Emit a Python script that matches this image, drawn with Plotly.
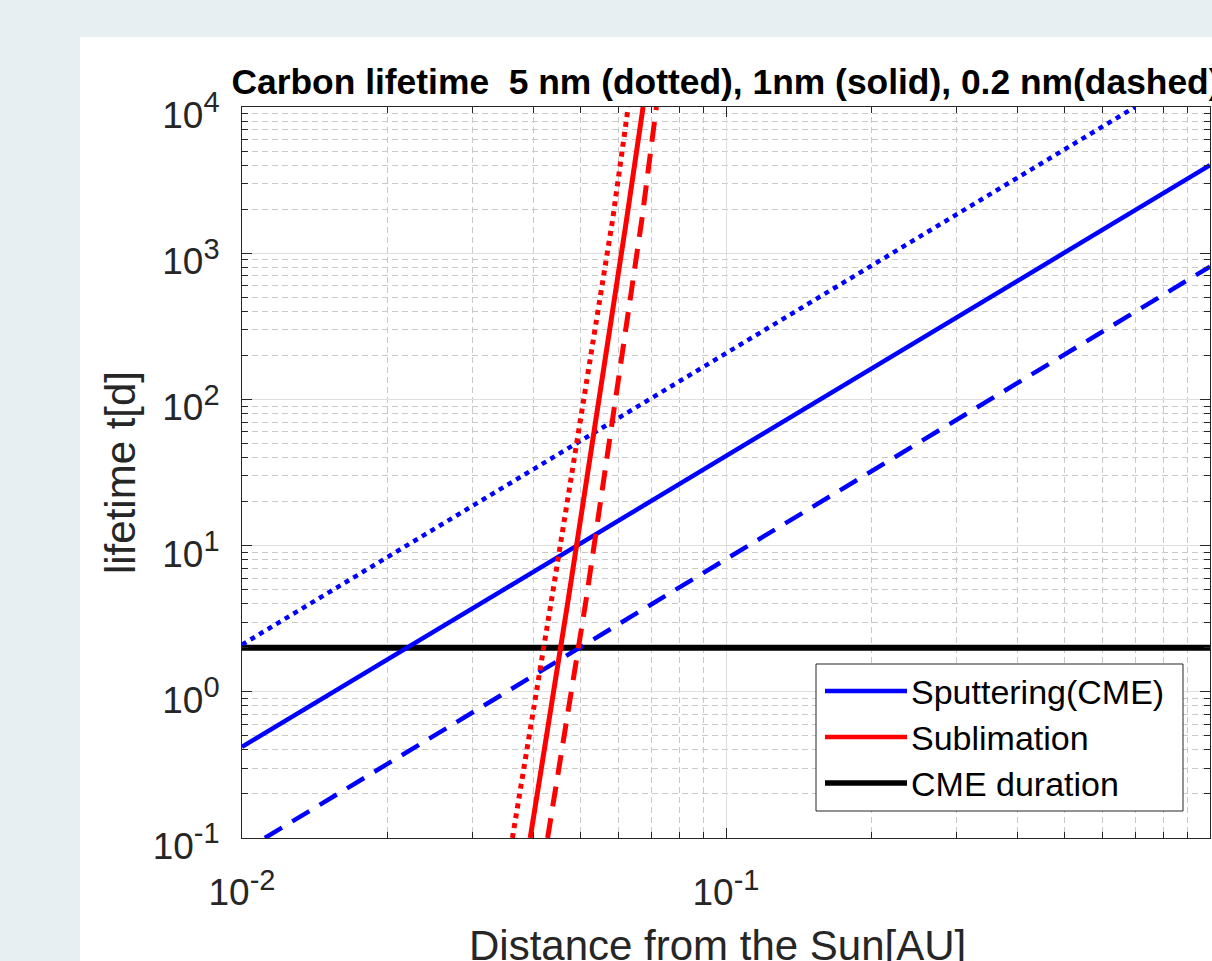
import plotly.graph_objects as go

# ---- data ----
# Sputtering (CME) lifetime lines [AU, days]
sput_r_dotted = [0.01, 0.70]
sput_t_dotted = [2.1, 10000]
sput_r_solid = [0.01, 1.0]
sput_t_solid = [0.42, 4000]
sput_r_dashed = [0.01115, 1.0]
sput_t_dashed = [0.1, 810]

# Sublimation lifetime lines [AU, days]
sub_t = [0.1, 4.25, 1690, 10000]
sub_r_dotted = [0.0362, 0.0436, 0.0583, 0.0628]
sub_r_solid = [0.0394, 0.0472, 0.0623, 0.0674]
sub_r_dashed = [0.0428, 0.0514, 0.0670, 0.0718]

# CME duration [days]
cme_r = [0.01, 1.0]
cme_t = [2, 2]

legend_labels = ["Sputtering(CME)", "Sublimation", "CME duration"]
legend_colors = ["#0000ff", "#ff0000", "#000000"]

x_tickvals = [0.01, 0.1, 1]
x_exps = ["-2", "-1", "0"]
y_tickvals = [0.1, 1, 10, 100, 1000, 10000]
y_exps = ["-1", "0", "1", "2", "3", "4"]

x_minor = [m * d for d in [0.01, 0.1] for m in range(2, 10)]
y_minor = [m * d for d in [0.1, 1, 10, 100, 1000] for m in range(2, 10)]

x_title = "Distance from the Sun[AU]"
y_title = "lifetime t[d]"
main_title = "Carbon lifetime  5 nm (dotted), 1nm (solid), 0.2 nm(dashed)"

FONT = "Liberation Sans, Arial, Helvetica, sans-serif"
AX = "#262626"
DOT = "5px,5px"
DASH = "20px,12px"


def pow_label(e):
    return "10<sup><span style='font-size:29px'>" + e + "</span></sup>"


fig = go.Figure()

fig.add_trace(go.Scatter(x=cme_r, y=cme_t, mode="lines",
                         line=dict(color="#000000", width=6), showlegend=False))
fig.add_trace(go.Scatter(x=sput_r_dotted, y=sput_t_dotted, mode="lines",
                         line=dict(color="#0000ff", width=4.5, dash=DOT), showlegend=False))
fig.add_trace(go.Scatter(x=sput_r_solid, y=sput_t_solid, mode="lines",
                         line=dict(color="#0000ff", width=4.5), showlegend=False))
fig.add_trace(go.Scatter(x=sput_r_dashed, y=sput_t_dashed, mode="lines",
                         line=dict(color="#0000ff", width=4.5, dash=DASH), showlegend=False))
fig.add_trace(go.Scatter(x=sub_r_dotted, y=sub_t, mode="lines",
                         line=dict(color="#ff0000", width=5, dash=DOT), showlegend=False))
fig.add_trace(go.Scatter(x=sub_r_solid, y=sub_t, mode="lines",
                         line=dict(color="#ff0000", width=5), showlegend=False))
fig.add_trace(go.Scatter(x=sub_r_dashed, y=sub_t, mode="lines",
                         line=dict(color="#ff0000", width=5, dash=DASH), showlegend=False))

W, H = 1212, 961
L, R, T, B = 242, 2, 107, 123
pw, ph = W - L - R, H - T - B


def px(xp):
    return (xp - L) / pw


def py(yp):
    return (H - B - yp) / ph


shapes = [
    # white figure panel
    dict(type="rect", xref="paper", yref="paper", x0=px(80), x1=px(1300),
         y0=py(1100), y1=py(37), fillcolor="white", line=dict(width=0), layer="below"),
    # legend box
    dict(type="rect", xref="paper", yref="paper", x0=px(816), x1=px(1183),
         y0=py(811), y1=py(664), fillcolor="white", line=dict(color=AX, width=1), layer="above"),
]
annotations = [
    # x-axis title (placed so that it is cut by the page edge as in the reference)
    dict(text=x_title, xref="paper", yref="paper", x=px(717), y=py(945),
         xanchor="center", yanchor="middle", showarrow=False,
         font=dict(family=FONT, size=42, color=AX)),
]
rows = [691, 737, 783]
lw = [4.5, 4.5, 5.5]
for lab, col, yy, w in zip(legend_labels, legend_colors, rows, lw):
    shapes.append(dict(type="line", xref="paper", yref="paper", x0=px(825), x1=px(907),
                       y0=py(yy), y1=py(yy), line=dict(color=col, width=w), layer="above"))
    annotations.append(dict(text=lab, xref="paper", yref="paper", x=px(909), y=py(yy + 1),
                            xanchor="left", yanchor="middle", showarrow=False,
                            font=dict(family=FONT, size=34, color="#000000")))

axis_common = dict(
    type="log", showline=True, linecolor=AX, linewidth=1, mirror="ticks",
    ticks="inside", ticklen=10, tickwidth=1, tickcolor=AX, automargin=False,
    showgrid=True, gridcolor="#dedede", gridwidth=1, zeroline=False,
    tickfont=dict(family=FONT, size=37, color=AX),
)

fig.update_layout(
    width=W, height=H, autosize=False,
    margin=dict(l=L, r=R, t=T, b=B, pad=0, autoexpand=False),
    paper_bgcolor="#e8eff2", plot_bgcolor="white",
    showlegend=False,
    title=dict(text=main_title,
               x=0.5, xref="paper", xanchor="center",
               y=1, yref="paper", yanchor="bottom", pad=dict(b=13),
               font=dict(family=FONT, size=35.4, color="#000000", weight="bold")),
    xaxis=dict(axis_common, range=[-2, 0], tickmode="array", tickvals=x_tickvals,
               ticktext=[pow_label(e) for e in x_exps], ticklabelstandoff=22,
               minor=dict(tickmode="array", tickvals=x_minor, ticks="inside", ticklen=6,
                          tickcolor=AX, showgrid=True, gridcolor="#c9c9c9",
                          griddash="6px,4px", gridwidth=1)),
    yaxis=dict(axis_common, range=[-1, 4], tickmode="array", tickvals=y_tickvals,
               ticktext=[pow_label(e) for e in y_exps], ticklabelstandoff=14,
               ticklabelshift=8,
               title=dict(text=y_title, standoff=3,
                          font=dict(family=FONT, size=42, color=AX)),
               minor=dict(tickmode="array", tickvals=y_minor, ticks="inside", ticklen=6,
                          tickcolor=AX, showgrid=True, gridcolor="#c9c9c9",
                          griddash="6px,4px", gridwidth=1)),
    shapes=shapes,
    annotations=annotations,
)

fig.write_html(
    "out.html",
    config={"displayModeBar": False},
    post_script=(
        "document.documentElement.style.margin='0';"
        "document.body.style.margin='0';document.body.style.padding='0';"
        "document.documentElement.style.overflow='hidden';"
        "document.body.style.overflow='hidden';"
        "document.body.style.background='#e8eff2';"
    ),
)
